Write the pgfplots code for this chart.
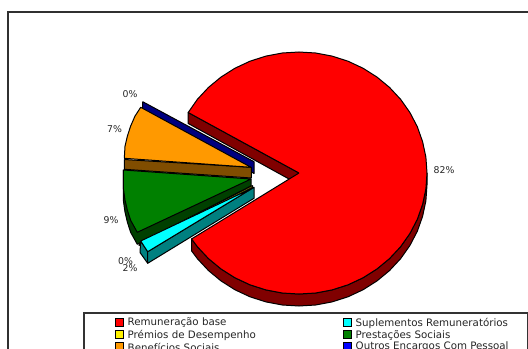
\documentclass[border=0pt]{standalone}
\usepackage{pgfplots}
\usepackage{fontspec}
\setmainfont{DejaVu Sans}
\pgfplotsset{compat=1.18}
\definecolor{redtop}{HTML}{FF0000}
\definecolor{redwall}{HTML}{800000}
\definecolor{cyantop}{HTML}{00FFFF}
\definecolor{cyanwall}{HTML}{008080}
\definecolor{olivewall}{HTML}{808000}
\definecolor{greentop}{HTML}{008000}
\definecolor{greenwall}{HTML}{004000}
\definecolor{orangetop}{HTML}{FF9900}
\definecolor{orangewall}{HTML}{804D00}
\definecolor{navywall}{HTML}{000080}
\definecolor{framegrey}{HTML}{303030}
\pgfplotsset{
  wedge/.style={draw=black,line width=0.75pt,line join=round,fill=#1,mark=none},
  swatch/.style={only marks,mark=square*,mark size=3pt,mark options={fill=#1,draw=black,line width=0.7pt}},
}
\begin{document}
\begin{tikzpicture}
\useasboundingbox (0,0) rectangle (396pt,261.75pt);
\begin{axis}[
  at={(0,0)},anchor=south west,
  width=396pt,height=261.75pt,scale only axis,
  xmin=0,xmax=528,ymin=0,ymax=349,y dir=reverse,
  axis lines=none,clip=true,
]
% chart frame
\addplot[draw=framegrey,line width=1.3pt,mark=none] coordinates {(8,349)(8,12)(528,12)};
% remuneracao base: outer wall, cut wall, top face
\addplot[wedge=redwall] coordinates {(427,173)(425.9,188.8)(422.6,204.3)(417.3,219.3)(409.9,233.5)(400.6,246.7)(389.5,258.6)(376.9,269)(363,277.8)(348,284.8)(332.1,289.9)(315.7,293)(299,294)(282.3,293)(265.9,289.9)(250,284.8)(235,277.8)(221.1,269)(208.5,258.6)(197.4,246.7)(191.6,238.9)(191.6,250.9)(197.4,258.7)(208.5,270.6)(221.1,281)(235,289.8)(250,296.8)(265.9,301.9)(282.3,305)(299,306)(315.7,305)(332.1,301.9)(348,296.8)(363,289.8)(376.9,281)(389.5,270.6)(400.6,258.7)(409.9,245.5)(417.3,231.3)(422.6,216.3)(425.9,200.8)(427,185)(427,173)};
\addplot[wedge=redwall] coordinates {(188.2,112.5)(188.2,123.5)(299,184.5)(299,173)(188.2,112.5)};
\addplot[wedge=redtop] coordinates {(299,173)(188.2,112.5)(197.4,99.3)(208.5,87.4)(221.1,77)(235,68.2)(250,61.2)(265.9,56.1)(282.3,53)(299,52)(315.7,53)(332.1,56.1)(348,61.2)(363,68.2)(376.9,77)(389.5,87.4)(400.6,99.3)(409.9,112.5)(417.3,126.7)(422.6,141.7)(425.9,157.2)(427,173)(425.9,188.8)(422.6,204.3)(417.3,219.3)(409.9,233.5)(400.6,246.7)(389.5,258.6)(376.9,269)(363,277.8)(348,284.8)(332.1,289.9)(315.7,293)(299,294)(282.3,293)(265.9,289.9)(250,284.8)(235,277.8)(221.1,269)(208.5,258.6)(197.4,246.7)(191.6,238.9)(299,173)};
% outros encargos: only the wall shows
\addplot[wedge=navywall] coordinates {(142.7,101.7)(142.7,109)(254,173.5)(254,161.7)(142.7,101.7)};
% beneficios sociais
\addplot[wedge=orangewall] coordinates {(124.3,159.5)(124.3,169.3)(251.3,178)(251.3,167.3)(124.3,159.5)};
\addplot[wedge=orangetop] coordinates {(251,167.3)(140.7,107.3)(135,116.1)(130.7,125.9)(127.4,136)(125,146.3)(124.3,158.3)(251,167.3)};
% prestacoes sociais
\addplot[wedge=greenwall] coordinates {(123.3,170)(123.3,182)(123.5,201.5)(125,212)(127.4,222.3)(130.7,232.4)(137.3,244.3)(251,186)(251,179)(123.3,170)};
\addplot[wedge=greentop] coordinates {(251,179)(123.3,170)(123.5,189.5)(125,200)(127.4,210.3)(130.7,220.4)(137.3,232.3)(251,179)};
% premios de desempenho: a sliver of wall
\addplot[wedge=olivewall] coordinates {(252.5,185.5)(139,243.5)(139,245.5)(252.5,187.5)(252.5,185.5)};
% suplementos remuneratorios
\addplot[wedge=cyanwall] coordinates {(140.7,241)(140,252.5)(147.7,263.3)(147.7,251.7)(140.7,241)};
\addplot[wedge=cyanwall] coordinates {(147.7,251.7)(147.7,263.3)(254,198.3)(254,187.3)(147.7,251.7)};
\addplot[wedge=cyantop] coordinates {(254,187.3)(140.7,241)(147.7,251.7)(254,187.3)};
% percentage labels
\node[font=\fontsize{7}{8}\selectfont,text=black!85] at (axis cs:130,94) {0\%};
\node[font=\fontsize{7}{8}\selectfont,text=black!85] at (axis cs:114.5,129) {7\%};
\node[font=\fontsize{7}{8}\selectfont,text=black!85] at (axis cs:111,220) {9\%};
\node[font=\fontsize{7}{8}\selectfont,text=black!85] at (axis cs:125.5,261) {0\%};
\node[font=\fontsize{7}{8}\selectfont,text=black!85] at (axis cs:130,268.5) {2\%};
\node[font=\fontsize{7}{8}\selectfont,text=black!85] at (axis cs:444,170.5) {82\%};
% legend box
\addplot[draw=black!80,line width=0.9pt,fill=white,mark=none] coordinates {(84,360)(84,313)(528,313)(528,360)};
\addplot[swatch=redtop] coordinates {(119,322)};
\addplot[swatch=yellow] coordinates {(119,334.5)};
\addplot[swatch=orangetop] coordinates {(119,346)};
\addplot[swatch=cyantop] coordinates {(347,322)};
\addplot[swatch=greentop] coordinates {(347,334.5)};
\addplot[swatch=blue] coordinates {(347,346)};
\node[anchor=west,font=\fontsize{7.7}{8}\selectfont,text=black!85] at (axis cs:123,323) {Remuneração base};
\node[anchor=west,font=\fontsize{7.7}{8}\selectfont,text=black!85] at (axis cs:123,335) {Prémios de Desempenho};
\node[anchor=west,font=\fontsize{7.7}{8}\selectfont,text=black!85] at (axis cs:123,347) {Benefícios Sociais};
\node[anchor=west,font=\fontsize{7.7}{8}\selectfont,text=black!85] at (axis cs:351,323) {Suplementos Remuneratórios};
\node[anchor=west,font=\fontsize{7.7}{8}\selectfont,text=black!85] at (axis cs:351,335) {Prestações Sociais};
\node[anchor=west,font=\fontsize{7.7}{8}\selectfont,text=black!85] at (axis cs:351,347) {Outros Encargos Com Pessoal};
\end{axis}
\end{tikzpicture}
\end{document}
